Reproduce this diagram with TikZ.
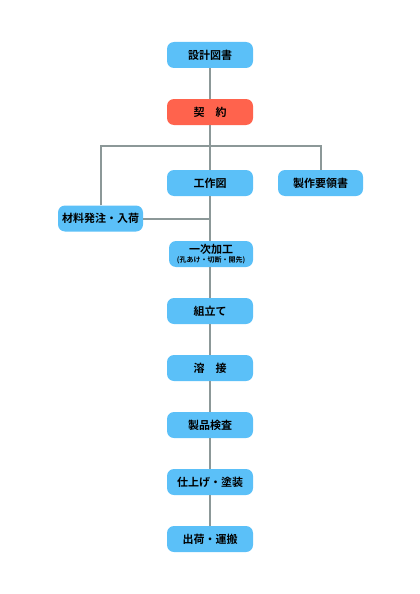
\documentclass[tikz,border=0pt]{standalone}
\usepackage{fontspec}
\setmainfont{Noto Sans CJK JP}[BoldFont={* Bold}]
\usepackage{tikz}
\usetikzlibrary{positioning, calc}
\definecolor{boxblue}{RGB}{91, 192, 248}
\definecolor{boxred}{RGB}{255, 99, 77}
\definecolor{linegray}{RGB}{140, 152, 152}
\tikzstyle{stepbox} = [rectangle, rounded corners=7pt, fill=boxblue, minimum width=86pt, minimum height=26pt, inner sep=1pt, align=center, font=\fontsize{11}{12}\selectfont\bfseries]
\tikzstyle{line} = [draw=linegray, line width=2pt]

\begin{document}
\begin{tikzpicture}[x=1pt, y=-1pt]
    \useasboundingbox (0,0) rectangle (420,594);

    % Top
    \node[stepbox] (sekkei) at (210, 55) {設計図書};
    \node[stepbox, fill=boxred] (keiyaku) at (210, 112) {契　約};

    % Branches
    \node[stepbox] (kosakuzu) at (210, 183) {工作図};
    \node[stepbox, minimum width=85pt] (yoryo) at (320.5, 183) {製作要領書};
    \node[stepbox, minimum width=85pt] (zairyo) at (100.5, 218.5) {材料発注・入荷};
    \node[stepbox, minimum width=84pt, inner sep=0pt] (ichiji) at (211, 254) {一次加工\\[-3pt]{\fontsize{7}{8}\selectfont (孔あけ・切断・開先)}};

    % Main flow
    \node[stepbox] (kumitate) at (210, 311) {組立て};
    \node[stepbox] (yosetsu) at (210, 368) {溶　接};
    \node[stepbox] (kensa) at (210, 425) {製品検査};
    \node[stepbox] (shiage) at (210, 482) {仕上げ・塗装};
    \node[stepbox] (shukka) at (210, 539) {出荷・運搬};

    % Connectors
    \coordinate (bus) at (210, 146);
    \draw[line] (sekkei.south) -- (keiyaku.north);
    \draw[line] (keiyaku.south) -- (bus);
    \draw[line] (zairyo.north) |- (bus) -| (yoryo.north);
    \draw[line] (bus) -- (kosakuzu.north);
    \draw[line] (kosakuzu.south) -- (kosakuzu.south |- ichiji.north);
    \draw[line] (zairyo.east) -- (zairyo.east -| kosakuzu.south);
    \draw[line] (kosakuzu.south |- ichiji.south) -- (kumitate.north);
    \foreach \a/\b in {kumitate/yosetsu, yosetsu/kensa, kensa/shiage, shiage/shukka} {
        \draw[line] (\a.south) -- (\b.north);
    }
\end{tikzpicture}
\end{document}
